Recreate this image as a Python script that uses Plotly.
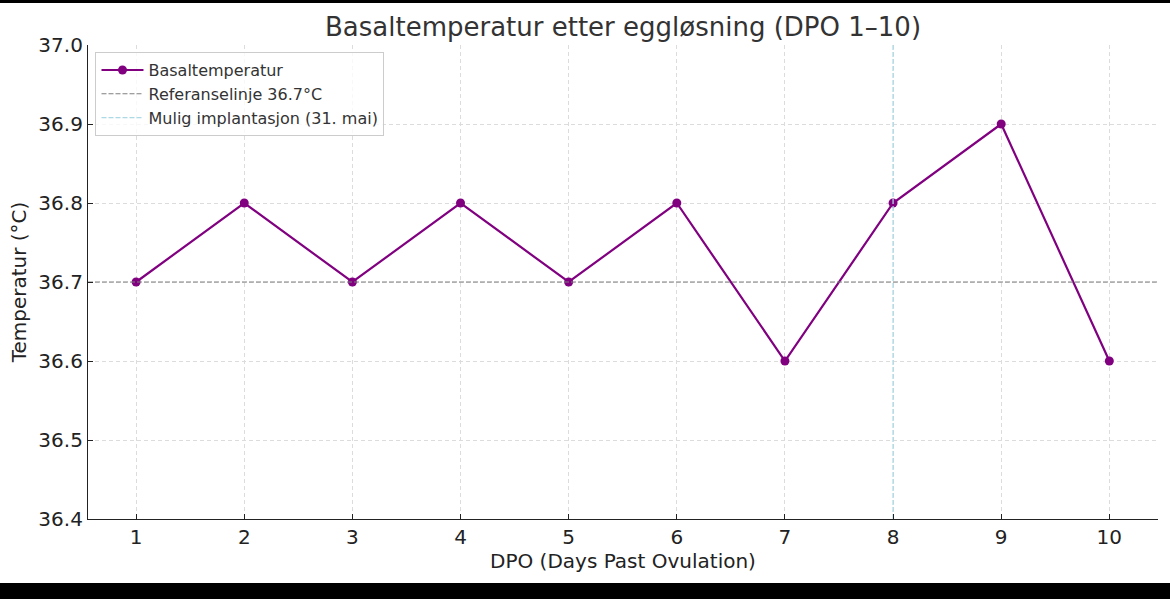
import plotly.graph_objects as go

dpo = [1, 2, 3, 4, 5, 6, 7, 8, 9, 10]
temps = [36.7, 36.8, 36.7, 36.8, 36.7, 36.8, 36.6, 36.8, 36.9, 36.6]
ref_temp = 36.7
implant_day = 8
x_range = [0.555, 10.45]
y_range = [36.4, 37.0]
y_ticks = [36.4, 36.5, 36.6, 36.7, 36.8, 36.9, 37.0]

FONT = "DejaVu Sans"
fig = go.Figure()
fig.add_trace(go.Scatter(
    x=dpo, y=temps, mode="lines+markers", name="Basaltemperatur",
    line=dict(color="#800080", width=2.2), marker=dict(color="#800080", size=9),
))
fig.add_trace(go.Scatter(
    x=x_range, y=[ref_temp, ref_temp], mode="lines", name="Referanselinje 36.7°C",
    line=dict(color="#808080", width=1.1, dash="5px,2px"),
))
fig.add_trace(go.Scatter(
    x=[implant_day, implant_day], y=y_range, mode="lines", name="Mulig implantasjon (31. mai)",
    line=dict(color="lightblue", width=1.3, dash="5px,2px"),
))

fig.update_layout(
    width=1170, height=599,
    margin=dict(l=88, r=12, t=45, b=80),
    paper_bgcolor="white", plot_bgcolor="white",
    font=dict(family=FONT, color="#222"),
    title=dict(text="Basaltemperatur etter eggløsning (DPO 1–10)", x=0.5325, xanchor="center",
               y=0.955, yanchor="middle", font=dict(size=26, color="#333")),
    legend=dict(x=0.007, y=0.985, xanchor="left", yanchor="top",
                bgcolor="rgba(255,255,255,0.8)", bordercolor="#ccc", borderwidth=1,
                font=dict(size=16, color="#333"), tracegroupgap=0, itemwidth=42),
    showlegend=True,
)
fig.update_xaxes(
    range=x_range, tickvals=dpo, ticktext=[str(d) for d in dpo],
    showgrid=True, gridcolor="#dcdcdc", griddash="4px,3px", gridwidth=1,
    showline=True, linecolor="#222", linewidth=1.2, ticks="inside", ticklen=5, tickcolor="#222",
    tickfont=dict(size=20, color="#222"), zeroline=False,
    title=dict(text="DPO (Days Past Ovulation)", font=dict(size=20, color="#222"), standoff=4),
)
fig.update_yaxes(
    range=y_range, tickvals=y_ticks, ticktext=[f"{v:.1f}" for v in y_ticks],
    showgrid=True, gridcolor="#dcdcdc", griddash="4px,3px", gridwidth=1,
    showline=True, linecolor="#222", linewidth=1.2, ticks="inside", ticklen=5, tickcolor="#222",
    tickfont=dict(size=20, color="#222"), zeroline=False,
    title=dict(text="Temperatur (°C)", font=dict(size=20, color="#222"), standoff=6),
)
# letterbox bars
fig.add_shape(type="rect", xref="paper", yref="paper", x0=-0.2, x1=1.2, y0=1.0886, y1=1.2,
              fillcolor="black", line_width=0, layer="above")
fig.add_shape(type="rect", xref="paper", yref="paper", x0=-0.2, x1=1.2, y0=-0.135, y1=-0.3,
              fillcolor="black", line_width=0, layer="above")
fig.write_html("out.html", config={"displayModeBar": False},
               post_script="document.body.style.margin='0';document.body.style.overflow='hidden';")
